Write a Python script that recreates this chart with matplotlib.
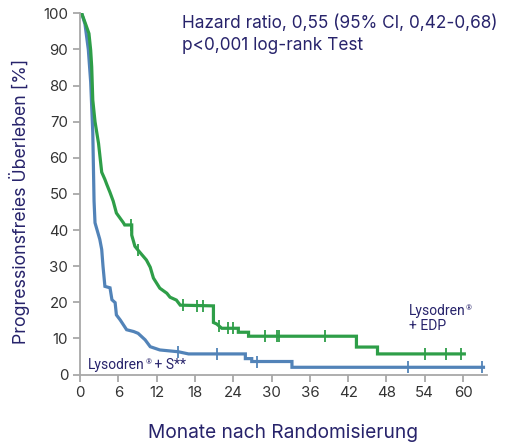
import matplotlib.pyplot as plt
import numpy as np

# Kaplan-Meier Kurven
edp_t = [0, 0.26, 0.94, 1.4, 1.67, 1.83, 2.0, 2.35, 2.9, 3.4, 3.9, 4.2, 4.7, 5.2, 5.7, 6.8, 7.0, 8.1,
         8.1, 8.6, 9.1, 10.4, 11.0, 11.5, 12.0, 12.5, 13.6, 14.1, 15.1, 15.7, 20.9, 20.9, 21.4, 22.2,
         24.8, 24.8, 26.4, 26.4, 43.3, 43.3, 46.6, 46.6, 60.2]
edp_s = [100, 100, 96.7, 94.4, 89.8, 85.2, 76, 70, 64, 56, 54, 52.6, 50.4, 48, 44.7, 42, 41.4, 41.4,
         38.6, 35.5, 34.4, 31.7, 29.7, 26.7, 25.3, 23.9, 22.5, 21.4, 20.6, 19.2, 19.0, 14.4, 14.0, 12.8,
         12.8, 11.7, 11.7, 10.6, 10.6, 7.6, 7.6, 5.7, 5.7]
edp_cens_t = [8.0, 9.1, 16.2, 18.3, 19.3, 21.7, 23.2, 24.0, 29.0, 30.8, 31.2, 38.4, 54.0, 57.4, 59.7]

s_t = [0, 0.26, 0.78, 1.3, 1.67, 2.0, 2.2, 2.35, 3.1, 3.4, 3.6, 3.9, 4.7, 5.0, 5.5, 5.7, 6.3, 7.3,
       8.4, 9.1, 10.2, 11.0, 12.5, 15.4, 17.0, 25.9, 25.9, 26.9, 26.9, 33.2, 33.2, 63.2]
s_s = [100, 100, 97, 90, 81, 67, 48, 42, 37.4, 34.6, 30, 24.4, 24, 20.7, 19.9, 16.5, 15.1, 12.4,
       11.9, 11.4, 9.6, 7.7, 6.8, 6.3, 5.7, 5.7, 4.4, 4.4, 3.6, 3.6, 2.0, 2.0]
s_cens_t = [15.4, 21.4, 27.8, 51.4, 62.9]

green = '#2e9e48'
blue = '#5283b8'
navy = '#27236b'

plt.rcParams['font.family'] = ['Inter', 'DejaVu Sans']

fig = plt.figure(figsize=(5.08, 4.43), dpi=100)
ax = fig.add_axes([0.1575, 0.1546, 0.8005, 0.8154])

ax.plot(s_t, s_s, color=blue, lw=2.3, solid_joinstyle='miter')
ax.plot(edp_t, edp_s, color=green, lw=2.3, solid_joinstyle='miter')

ax.plot(s_cens_t, np.interp(s_cens_t, s_t, s_s), '|', color=blue, ms=8, mew=1.3)
ax.plot(edp_cens_t, np.interp(edp_cens_t, edp_t, edp_s), '|', color=green, ms=8, mew=1.3)

ax.set_xlim(0, 63.7)
ax.set_ylim(0, 100)
ax.set_xticks(np.arange(0, 61, 6))
ax.set_yticks(np.arange(0, 101, 10))
for side in ['top', 'right']:
    ax.spines[side].set_visible(False)
for side in ['left', 'bottom']:
    ax.spines[side].set_color('#a8a8a8')
    ax.spines[side].set_linewidth(1.3)
ax.tick_params(colors='#a8a8a8', labelcolor='#333333', labelsize=10.8, length=5, width=1.3)

ax.set_xlabel('Monate nach Randomisierung', color=navy, fontsize=13.8, labelpad=17)
ax.set_ylabel('Progressionsfreies Überleben [%]', color=navy, fontsize=12.8)
ax.yaxis.set_label_coords(-0.124, 0.48)

ax.text(0.251, 0.998, 'Hazard ratio, 0,55 (95% CI, 0,42-0,68)\np<0,001 log-rank Test',
        transform=ax.transAxes, color=navy, fontsize=12.4, va='top', linespacing=1.4)


def lyso_label(x, y, rest):
    # "Lysodren" + kleines hochgestelltes ® + Rest
    lab = dict(color=navy, fontsize=10, family='Roboto')
    t1 = ax.text(x, y, 'Lysodren', va='bottom', **lab)
    r = ax.annotate('®', xy=(1, 1), xycoords=t1, xytext=(0.2, -1), textcoords='offset points',
                    va='top', ha='left', color=navy, fontsize=5.5, family='Roboto')
    if rest:
        ax.annotate(rest, xy=(1, 0), xycoords=(r, t1), va='bottom', ha='left', **lab)
    return t1


lyso_label(1.3, 0.8, ' + S**')
lyso_label(51.5, 15.7, '')
ax.text(51.5, 11.5, '+ EDP', color=navy, fontsize=10, family='Roboto', va='bottom')

fig.savefig('out.png', dpi=100)
